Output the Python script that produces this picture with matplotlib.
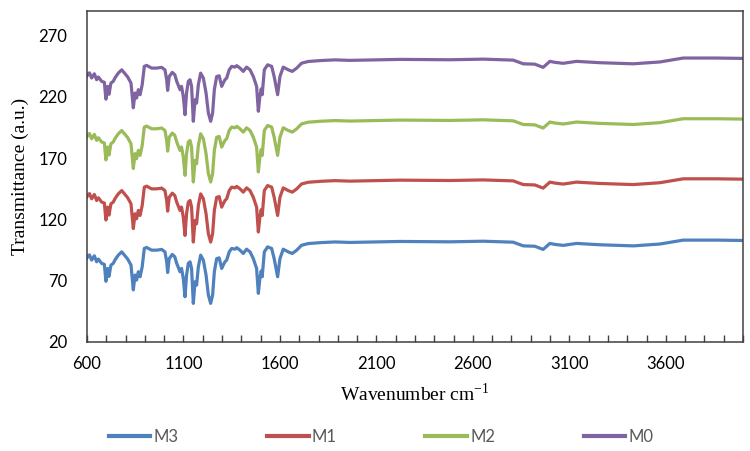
import matplotlib
matplotlib.use("Agg")
import matplotlib.pyplot as plt
from matplotlib.ticker import MultipleLocator, FixedLocator

# wavenumbers (cm-1)
wavenumber = [600, 607, 613, 624, 638, 650, 659, 676, 690, 698,
              707, 714, 724, 736, 745, 762, 780, 797, 811, 828,
              840, 849, 857, 866, 875, 886, 897, 909, 935, 961,
              987, 1004, 1013, 1018, 1026, 1042, 1055, 1065, 1082, 1090,
              1099, 1108, 1116, 1125, 1134, 1142, 1151, 1160, 1168, 1177,
              1189, 1203, 1217, 1229, 1241, 1251, 1260, 1272, 1285, 1298,
              1306, 1315, 1324, 1337, 1350, 1367, 1376, 1393, 1410, 1427,
              1445, 1462, 1479, 1488, 1496, 1503, 1508, 1519, 1536, 1557,
              1570, 1588, 1600, 1617, 1643, 1664, 1687, 1712, 1747, 1816,
              1885, 1963, 2222, 2481, 2654, 2809, 2861, 2921, 2964, 2999,
              3025, 3068, 3137, 3258, 3431, 3569, 3690, 3863, 4000]

m3 = [88.5, 90.5, 91.0, 86.8, 90.3, 85.4, 87.6, 84.1, 83.3, 69.5,
      80.0, 73.5, 82.7, 84.1, 86.9, 90.8, 93.5, 90.3, 87.6, 82.7,
      62.5, 74.6, 70.5, 77.3, 73.2, 81.3, 96.3, 97.1, 94.9, 94.9,
      95.5, 93.5, 85.4, 76.7, 88.0, 91.4, 89.5, 84.1, 77.3, 80.0,
      71.9, 56.9, 74.6, 84.1, 85.4, 80.0, 51.5, 69.1, 66.4, 81.3,
      90.8, 86.8, 74.6, 58.3, 51.5, 58.3, 77.3, 88.0, 88.6, 80.0,
      82.7, 85.4, 86.8, 93.5, 96.3, 95.7, 96.9, 94.9, 92.2, 95.7,
      93.5, 88.0, 80.0, 59.7, 71.9, 78.0, 73.2, 93.5, 97.6, 96.3,
      88.0, 73.2, 88.0, 95.7, 93.5, 92.2, 94.9, 98.9, 100.3, 101.1,
      101.6, 101.2, 102.0, 101.7, 102.2, 101.4, 98.4, 98.1, 95.5, 100.4,
      99.6, 98.8, 100.4, 99.3, 98.4, 99.9, 103.1, 103.1, 102.8]

m1 = [138.5, 140.5, 141.0, 136.8, 140.3, 135.4, 137.6, 134.1, 133.3, 119.5,
      130.0, 123.5, 132.7, 134.1, 136.9, 140.8, 143.5, 140.3, 137.6, 132.7,
      112.5, 124.6, 120.5, 127.3, 123.2, 131.3, 146.3, 147.1, 144.9, 144.9,
      145.5, 143.5, 135.4, 126.7, 138.0, 141.4, 139.5, 134.1, 127.3, 130.0,
      121.9, 106.9, 124.6, 134.1, 135.4, 130.0, 101.5, 119.1, 116.4, 131.3,
      140.8, 136.8, 124.6, 108.3, 101.5, 108.3, 127.3, 138.0, 138.6, 130.0,
      132.7, 135.4, 136.8, 143.5, 146.3, 145.7, 146.9, 144.9, 142.2, 145.7,
      143.5, 138.0, 130.0, 109.7, 121.9, 128.0, 123.2, 143.5, 147.6, 146.3,
      138.0, 123.2, 138.0, 145.7, 143.5, 142.2, 144.9, 148.9, 150.3, 151.1,
      151.6, 151.2, 152.0, 151.7, 152.2, 151.4, 148.4, 148.1, 145.5, 150.4,
      149.6, 148.8, 150.4, 149.3, 148.4, 149.9, 153.1, 153.1, 152.8]

m2 = [187.5, 189.5, 190.0, 185.8, 189.3, 184.4, 186.6, 183.1, 182.3, 168.5,
      179.0, 172.5, 181.7, 183.1, 185.9, 189.8, 192.5, 189.3, 186.6, 181.7,
      161.5, 173.6, 169.5, 176.3, 172.2, 180.3, 195.3, 196.1, 193.9, 193.9,
      194.5, 192.5, 184.4, 175.7, 187.0, 190.4, 188.5, 183.1, 176.3, 179.0,
      170.9, 155.9, 173.6, 183.1, 184.4, 179.0, 150.5, 168.1, 165.4, 180.3,
      189.8, 185.8, 173.6, 157.3, 150.5, 157.3, 176.3, 187.0, 187.6, 179.0,
      181.7, 184.4, 185.8, 192.5, 195.3, 194.7, 195.9, 193.9, 191.2, 194.7,
      192.5, 187.0, 179.0, 158.7, 170.9, 177.0, 172.2, 192.5, 196.6, 195.3,
      187.0, 172.2, 187.0, 194.7, 192.5, 191.2, 193.9, 197.9, 199.3, 200.1,
      200.6, 200.2, 201.0, 200.7, 201.2, 200.4, 197.4, 197.1, 194.5, 199.4,
      198.6, 197.8, 199.4, 198.3, 197.4, 198.9, 202.1, 202.1, 201.8]

m0 = [237.0, 239.0, 239.5, 235.3, 238.8, 233.9, 236.1, 232.6, 231.8, 218.0,
      228.5, 222.0, 231.2, 232.6, 235.4, 239.3, 242.0, 238.8, 236.1, 231.2,
      211.0, 223.1, 219.0, 225.8, 221.7, 229.8, 244.8, 245.6, 243.4, 243.4,
      244.0, 242.0, 233.9, 225.2, 236.5, 239.9, 238.0, 232.6, 225.8, 228.5,
      220.4, 205.4, 223.1, 232.6, 233.9, 228.5, 200.0, 217.6, 214.9, 229.8,
      239.3, 235.3, 223.1, 206.8, 200.0, 206.8, 225.8, 236.5, 237.1, 228.5,
      231.2, 233.9, 235.3, 242.0, 244.8, 244.2, 245.4, 243.4, 240.7, 244.2,
      242.0, 236.5, 228.5, 208.2, 220.4, 226.5, 221.7, 242.0, 246.1, 244.8,
      236.5, 221.7, 236.5, 244.2, 242.0, 240.7, 243.4, 247.4, 248.8, 249.6,
      250.1, 249.7, 250.5, 250.2, 250.7, 249.9, 246.9, 246.6, 244.0, 248.9,
      248.1, 247.3, 248.9, 247.8, 246.9, 248.4, 251.6, 251.6, 251.3]

names = ["M3", "M1", "M2", "M0"]
colors = ["#4F81BD", "#C0504D", "#9BBB59", "#8064A2"]

fig = plt.figure(figsize=(7.5, 4.51), dpi=100)
ax = fig.add_axes([0.116, 0.2417, 0.8747, 0.734])

for vals, name, c in zip([m3, m1, m2, m0], names, colors):
    ax.plot(wavenumber, vals, color=c, lw=2.3, label=name, solid_joinstyle="round")

ax.set_xlim(600, 4000)
ax.set_ylim(20, 290)
ax.xaxis.set_major_locator(FixedLocator(range(600, 3700, 500)))
ax.xaxis.set_minor_locator(MultipleLocator(100))
ax.yaxis.set_major_locator(FixedLocator(range(20, 271, 50)))

tick_font = "Lato"
ax.tick_params(axis="x", which="both", direction="in", length=5, width=1, color="#404040")
ax.tick_params(axis="x", which="major", pad=10, labelsize=12)
ax.tick_params(axis="y", length=0, pad=14, labelsize=12)
for lab in ax.get_xticklabels() + ax.get_yticklabels():
    lab.set_fontfamily(tick_font)

for s in ax.spines.values():
    s.set_color("#404040")
    s.set_linewidth(1.1)

ax.set_xlabel("Wavenumber cm$^{\\mathregular{-1}}$", family="Liberation Serif", fontsize=14, labelpad=8)
ax.set_ylabel("Transmittance (a.u.)", family="Liberation Serif", fontsize=14, labelpad=7)

leg = fig.legend(loc="center", bbox_to_anchor=(0.508, 0.032), ncol=4, frameon=False,
                 handlelength=2.5, handletextpad=0.2, columnspacing=5.3,
                 prop={"family": tick_font, "size": 12})
for t in leg.get_texts():
    t.set_color("#595959")
for h in leg.get_lines():
    h.set_linewidth(3)

fig.savefig("out.png", dpi=100)
